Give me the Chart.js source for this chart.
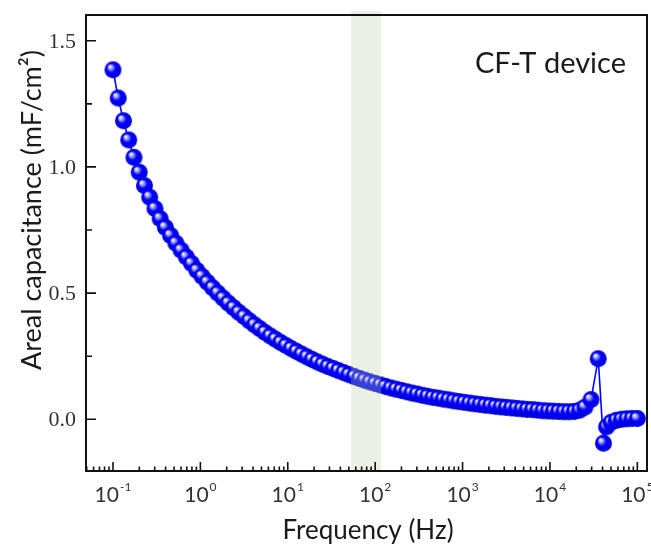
<!DOCTYPE html>
<html>
<head>
<meta charset="utf-8">
<title>CF-T device</title>
<script src="https://cdn.jsdelivr.net/npm/chart.js@4.4.1/dist/chart.umd.min.js"></script>
<style>
  html, body { margin: 0; padding: 0; background: #fff; }
  canvas { display: block; }
</style>
</head>
<body>
<canvas id="graficoCapacitancia" width="651" height="554"></canvas>
<script>
// Frequências (Hz)
const frequencias = [
  0.1, 0.1148, 0.1318, 0.1514, 0.1738, 0.1995, 0.2291, 0.263, 0.302, 0.3467,
  0.3981, 0.4571, 0.5248, 0.6026, 0.6918, 0.7943, 0.912, 1.047, 1.202, 1.380,
  1.585, 1.820, 2.089, 2.399, 2.754, 3.162, 3.631, 4.169, 4.786, 5.495,
  6.310, 7.244, 8.318, 9.550, 10.96, 12.59, 14.45, 16.60, 19.05, 21.88,
  25.12, 28.84, 33.11, 38.02, 43.65, 50.12, 57.54, 66.07, 75.86, 87.10,
  100.0, 114.8, 131.8, 151.4, 173.8, 199.5, 229.1, 263.0, 302.0, 346.7,
  398.1, 457.1, 524.8, 602.6, 691.8, 794.3, 912.0, 1047, 1202, 1380,
  1585, 1820, 2089, 2399, 2754, 3162, 3631, 4169, 4786, 5495,
  6310, 7244, 8318, 9550, 10960, 12590, 14450, 16600, 19050, 21880,
  25120, 29500, 35700, 41000, 44500, 50120, 57540, 66070, 75860, 87100,
  100000
];

// Capacitância areal (mF/cm²)
const capacitancia = [
  1.385, 1.273, 1.183, 1.107, 1.038, 0.979, 0.926, 0.880, 0.835, 0.795,
  0.760, 0.728, 0.698, 0.670, 0.643, 0.617, 0.590, 0.566, 0.543, 0.521,
  0.500, 0.480, 0.460, 0.442, 0.424, 0.407, 0.390, 0.374, 0.359, 0.344,
  0.330, 0.317, 0.304, 0.292, 0.280, 0.269, 0.258, 0.247, 0.237, 0.227,
  0.218, 0.209, 0.201, 0.193, 0.185, 0.177, 0.169, 0.162, 0.155, 0.148,
  0.142, 0.136, 0.130, 0.124, 0.119, 0.114, 0.109, 0.104, 0.100, 0.095,
  0.091, 0.087, 0.084, 0.080, 0.077, 0.073, 0.070, 0.067, 0.064, 0.061,
  0.059, 0.056, 0.054, 0.051, 0.049, 0.047, 0.045, 0.043, 0.041, 0.039,
  0.038, 0.036, 0.034, 0.033, 0.032, 0.031, 0.030, 0.030, 0.031, 0.036,
  0.048, 0.078, 0.240, -0.095, -0.030, -0.012, -0.004, 0.000, 0.002, 0.003,
  0.003
];

// Rótulos dos eixos
const xTicks = [0.1, 1, 10, 100, 1000, 10000, 100000];
const xExpoentes = ['-1', '0', '1', '2', '3', '4', '5'];
const yTicks = [0, 0.5, 1.0, 1.5];
const yMenores = [0.25, 0.75, 1.25];
const faixaVerde = [53, 117]; // faixa destacada (Hz)

const xMin = 0.0491, xMax = 129000;
const yMin = -0.205, yMax = 1.602;

const fonteTexto = 'Lato, "Open Sans", sans-serif';

// Esfera azul com brilho (marcador)
function criarEsfera(r) {
  const c = document.createElement('canvas');
  c.width = c.height = 2 * r + 2;
  const g = c.getContext('2d');
  const cx = r + 1, cy = r + 1;
  const grad = g.createRadialGradient(cx - r * 0.38, cy - r * 0.4, r * 0.05, cx, cy, r);
  grad.addColorStop(0, '#ffffff');
  grad.addColorStop(0.22, '#9a9aff');
  grad.addColorStop(0.5, '#0000ff');
  grad.addColorStop(0.9, '#0000e6');
  grad.addColorStop(1, '#0000b0');
  g.fillStyle = grad;
  g.beginPath();
  g.arc(cx, cy, r, 0, Math.PI * 2);
  g.fill();
  return c;
}
const esfera = criarEsfera(8.5);

// Minor ticks do eixo log
const xMenores = [];
for (let d = -2; d <= 5; d++) {
  for (let m = 2; m <= 9; m++) {
    const v = m * Math.pow(10, d);
    if (v > xMin && v < xMax) xMenores.push(v);
  }
}

// Eixos, ticks, textos e faixa verde
const eixosPlugin = {
  id: 'eixosOrigin',
  afterDatasetsDraw(chart) {
    const { ctx, chartArea, scales } = chart;
    const x0 = scales.x.getPixelForValue(faixaVerde[0]);
    const x1 = scales.x.getPixelForValue(faixaVerde[1]);
    ctx.save();
    ctx.fillStyle = 'rgba(185, 210, 165, 0.3)';
    ctx.fillRect(x0, 11, x1 - x0, chartArea.bottom - 11);
    ctx.restore();
  },
  afterDraw(chart) {
    const { ctx, chartArea: a, scales } = chart;
    const xs = scales.x, ys = scales.y;
    ctx.save();
    ctx.strokeStyle = '#111';
    ctx.lineWidth = 2;
    ctx.strokeRect(a.left, a.top, a.right - a.left, a.bottom - a.top);

    // ticks para dentro
    ctx.lineWidth = 1.6;
    ctx.beginPath();
    yTicks.forEach(v => {
      const y = ys.getPixelForValue(v);
      ctx.moveTo(a.left, y); ctx.lineTo(a.left + 10, y);
    });
    yMenores.forEach(v => {
      const y = ys.getPixelForValue(v);
      ctx.moveTo(a.left, y); ctx.lineTo(a.left + 6, y);
    });
    xTicks.forEach(v => {
      const x = xs.getPixelForValue(v);
      ctx.moveTo(x, a.bottom); ctx.lineTo(x, a.bottom - 9);
    });
    xMenores.forEach(v => {
      const x = xs.getPixelForValue(v);
      ctx.moveTo(x, a.bottom); ctx.lineTo(x, a.bottom - 4.5);
    });
    ctx.stroke();

    // rótulos do eixo y
    ctx.fillStyle = '#333';
    ctx.font = '22px "Liberation Serif", "Times New Roman", serif';
    ctx.textAlign = 'right';
    ctx.textBaseline = 'middle';
    yTicks.forEach(v => {
      ctx.fillText(v.toFixed(1), a.left - 10, ys.getPixelForValue(v) + 1);
    });

    // rótulos do eixo x (10 com expoente)
    ctx.textAlign = 'left';
    ctx.textBaseline = 'alphabetic';
    xTicks.forEach((v, i) => {
      const x = xs.getPixelForValue(v);
      ctx.font = '21px ' + fonteTexto;
      const wb = ctx.measureText('10').width;
      ctx.font = '12px ' + fonteTexto;
      const we = ctx.measureText(xExpoentes[i]).width;
      const x0 = x - (wb + we + 1) / 2;
      ctx.font = '21px ' + fonteTexto;
      ctx.fillText('10', x0, 502);
      ctx.font = '12px ' + fonteTexto;
      ctx.fillText(xExpoentes[i], x0 + wb + 1, 491);
    });

    // títulos
    ctx.fillStyle = '#1a1a1a';
    ctx.font = '26px ' + fonteTexto;
    ctx.textAlign = 'center';
    ctx.textBaseline = 'middle';
    ctx.fillText('Frequency (Hz)', 368, 531);

    ctx.save();
    ctx.translate(32, 210);
    ctx.rotate(-Math.PI / 2);
    ctx.font = '27px ' + fonteTexto;
    ctx.fillText('Areal capacitance (mF/cm²)', 0, 0);
    ctx.restore();

    ctx.font = '29px ' + fonteTexto;
    ctx.textAlign = 'left';
    ctx.fillText('CF-T device', 475, 64);
    ctx.restore();
  }
};

const ctx = document.getElementById('graficoCapacitancia').getContext('2d');

const data = {
  datasets: [{
    label: 'CF-T device',
    data: frequencias.map((f, i) => ({ x: f, y: capacitancia[i] })),
    borderColor: '#0000ff',
    borderWidth: 1.6,
    pointStyle: esfera,
    pointRadius: 8.5,
    pointHoverRadius: 8.5,
    tension: 0
  }]
};

const config = {
  type: 'line',
  data: data,
  options: {
    responsive: false,
    animation: false,
    devicePixelRatio: 1,
    layout: { autoPadding: false, padding: { left: 86, top: 15, right: 4, bottom: 83 } },
    plugins: { legend: { display: false }, tooltip: { enabled: false } },
    scales: {
      x: { type: 'logarithmic', min: xMin, max: xMax, display: false },
      y: { type: 'linear', min: yMin, max: yMax, display: false }
    }
  },
  plugins: [eixosPlugin]
};

new Chart(ctx, config);
</script>
</body>
</html>
